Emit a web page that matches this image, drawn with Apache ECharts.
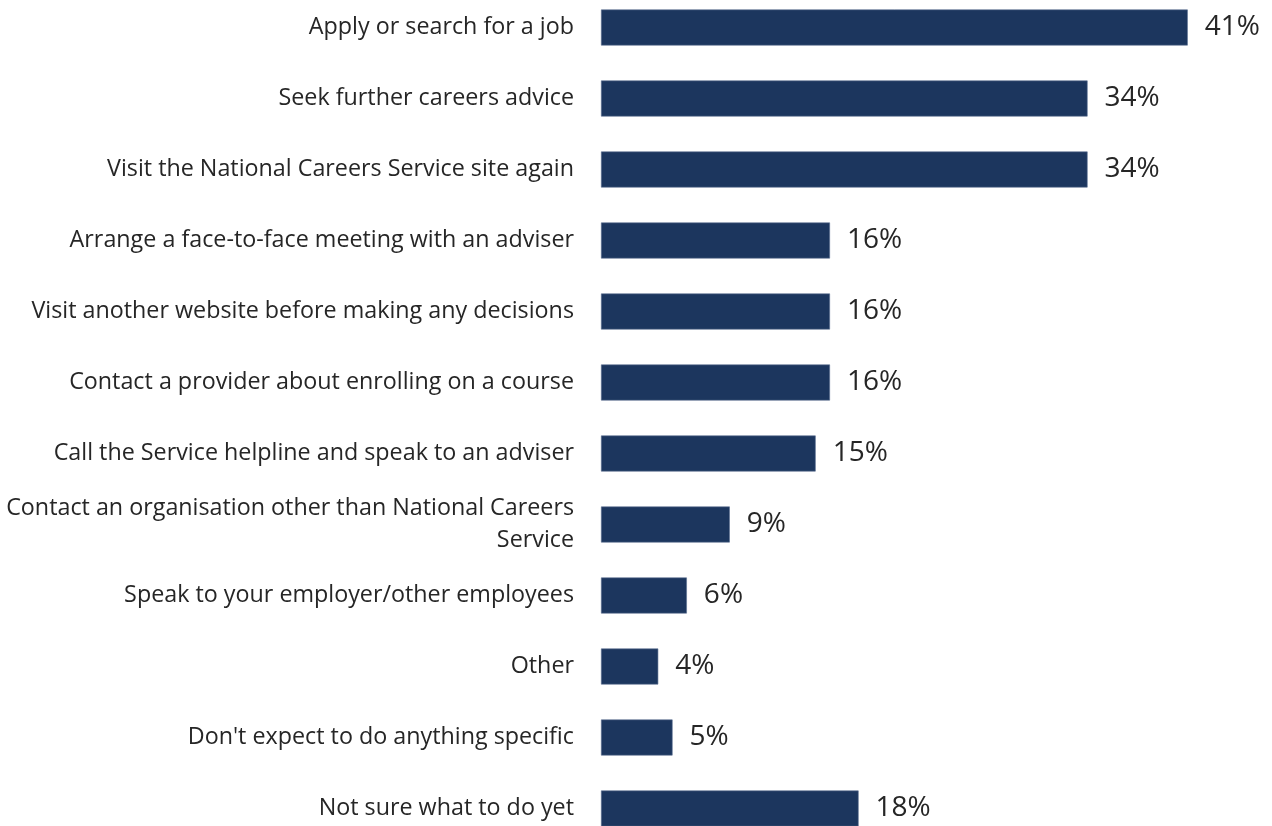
<!DOCTYPE html>
<html>
<head>
<meta charset="utf-8">
<script src="https://cdn.jsdelivr.net/npm/echarts@6/dist/echarts.min.js"></script>
<style>
  html, body { margin: 0; padding: 0; background: #ffffff; overflow: hidden; }
  /* the plot runs slightly past the window at top and bottom */
  #chart { width: 1272px; height: 852px; margin-top: -8.5px; }
</style>
</head>
<body>
<div id="chart"></div>
<script>
// Planned next steps after using the service
const categories = [
  'Apply or search for a job',
  'Seek further careers advice',
  'Visit the National Careers Service site again',
  'Arrange a face-to-face meeting with an adviser',
  'Visit another website before making any decisions',
  'Contact a provider about enrolling on a course',
  'Call the Service helpline and speak to an adviser',
  'Contact an organisation other than National Careers\nService',
  'Speak to your employer/other employees',
  'Other',
  "Don't expect to do anything specific",
  'Not sure what to do yet'
];
const percentages = [41, 34, 34, 16, 16, 16, 15, 9, 6, 4, 5, 18];

const fontFamily = '"Open Sans", Lato, sans-serif';

const chart = echarts.init(document.getElementById('chart'));
chart.setOption({
  animation: false,
  grid: { left: 601, right: 27, top: 0, bottom: 0, containLabel: false },
  xAxis: {
    type: 'value',
    min: 0,
    max: 45,
    show: false
  },
  yAxis: {
    type: 'category',
    data: categories,
    inverse: true,
    axisLine: { show: false },
    axisTick: { show: false },
    axisLabel: {
      margin: 27,
      color: '#262626',
      fontSize: 23.3,
      fontFamily: fontFamily,
      lineHeight: 32,
      align: 'right'
    }
  },
  series: [{
    type: 'bar',
    data: percentages,
    barWidth: 36,
    itemStyle: { color: '#1c365e', borderColor: '#5a6f90', borderWidth: 0.6 },
    label: {
      show: true,
      position: 'right',
      distance: 17,
      color: '#262626',
      fontSize: 28,
      fontFamily: fontFamily,
      formatter: p => p.value + '%'
    }
  }]
});
</script>
</body>
</html>
